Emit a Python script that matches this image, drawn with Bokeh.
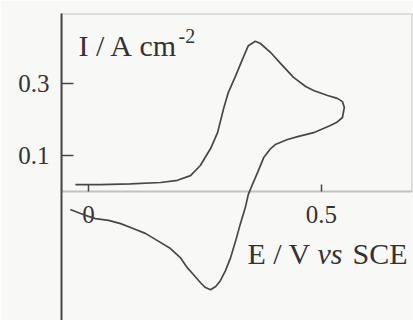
import math
from bokeh.plotting import figure
from bokeh.models import FixedTicker, BoxAnnotation, Label
from bokeh.core.properties import value
from bokeh.embed import file_html
from bokeh.resources import INLINE

# Cyclic voltammogram, potential E (V vs SCE) and current density I (A cm^-2)
potential = [-0.028, 0.026, 0.090, 0.155, 0.191, 0.219, 0.240, 0.262, 0.277, 0.290,
             0.300, 0.316, 0.331, 0.343, 0.358, 0.369, 0.391, 0.412, 0.440, 0.466,
             0.483, 0.513, 0.534, 0.545, 0.549, 0.545, 0.532, 0.519, 0.483, 0.449,
             0.427, 0.401, 0.391, 0.376, 0.363, 0.350, 0.343, 0.337, 0.326, 0.316,
             0.305, 0.294, 0.283, 0.273, 0.262, 0.251, 0.240, 0.225, 0.212, 0.197,
             0.176, 0.148, 0.122, 0.097, 0.069, 0.043, 0.015, 0.000, -0.017, -0.039]
current = [0.019, 0.019, 0.021, 0.025, 0.031, 0.044, 0.072, 0.119, 0.163, 0.230,
           0.274, 0.321, 0.368, 0.404, 0.416, 0.410, 0.385, 0.355, 0.316, 0.291,
           0.280, 0.266, 0.258, 0.249, 0.233, 0.205, 0.191, 0.183, 0.163, 0.152,
           0.144, 0.130, 0.119, 0.094, 0.053, 0.014, -0.008, -0.042, -0.089, -0.136,
           -0.183, -0.219, -0.247, -0.263, -0.272, -0.266, -0.252, -0.230, -0.211, -0.183,
           -0.158, -0.136, -0.116, -0.103, -0.089, -0.080, -0.075, -0.069, -0.061, -0.050]

x_ticks = [0.0, 0.5]
x_tick_labels = ["0", "0.5"]
y_ticks = [0.1, 0.3]

ink = "#474747"
txt = "#333333"
bg = "#f8f8f6"
serif = "Liberation Serif"

p = figure(width=413, height=320, output_backend="svg", toolbar_location=None,
           title=None, x_axis_location=None,
           x_range=(-0.0579, 0.6953), y_range=(-0.3573, 0.4931),
           min_border_left=61, min_border_right=1, min_border_top=13, min_border_bottom=0)
p.background_fill_color = bg
p.border_fill_color = bg
p.outline_line_color = None
p.xgrid.visible = False
p.ygrid.visible = False

# left axis
ax = p.yaxis[0]
ax.ticker = FixedTicker(ticks=y_ticks)
ax.major_tick_in = 12
ax.major_tick_out = 0
ax.minor_tick_in = 0
ax.minor_tick_out = 0
ax.axis_line_width = 2
ax.axis_line_color = ink
ax.major_tick_line_width = 1.5
ax.major_tick_line_color = ink
ax.major_label_standoff = 12
ax.major_label_text_font = serif
ax.major_label_text_font_size = "25px"
ax.major_label_text_color = txt

# frame: top, right and zero line
p.add_layout(BoxAnnotation(bottom=0, fill_alpha=0, line_color=ink, line_width=2))

# x ticks at zero line
p.ray(x=x_ticks, y=[0] * len(x_ticks), length=7, length_units="screen",
      angle=math.pi / 2, line_color=ink, line_width=1.5)
p.text(x=x_ticks, y=[0] * len(x_ticks), text=x_tick_labels, text_align="center",
       text_baseline="alphabetic", y_offset=23, text_font=value(serif),
       text_font_size="25px", text_color=txt)

# curve
p.line(potential, current, line_color=ink, line_width=1.7)

# axis titles
def lab(x, y, t, size="30px", style="normal"):
    p.add_layout(Label(x=x, y=y, text=t, text_font=serif, text_font_size=size,
                       text_font_style=style, text_color=txt,
                       text_align="left", text_baseline="alphabetic"))

lab(-0.0215, 0.4044, "I / A")
lab(0.1094, 0.4044, "cm")
lab(0.1931, 0.4321, "-2", size="20px")
lab(0.3412, -0.1717, "E / V")
lab(0.4914, -0.1717, "vs", style="italic")
lab(0.5665, -0.1717, "SCE")

open("out.html", "w").write(file_html(p, INLINE))
